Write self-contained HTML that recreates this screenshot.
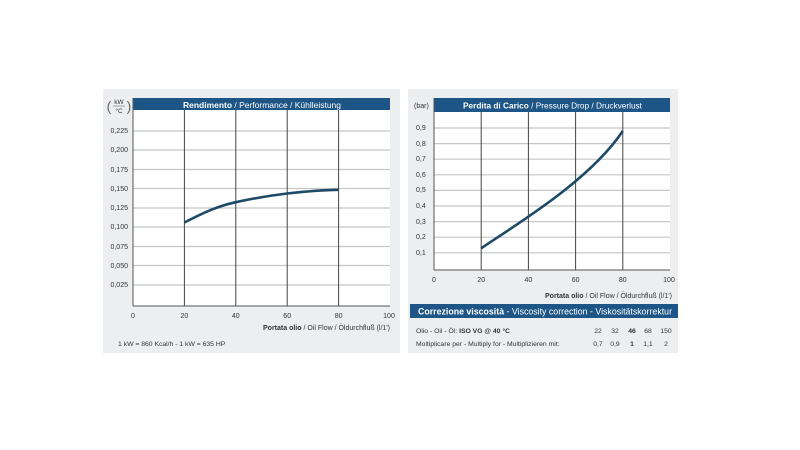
<!DOCTYPE html>
<html><head><meta charset="utf-8"><style>
body{margin:0;background:#fff;}
svg{display:block;font-family:"Liberation Sans",sans-serif;}
</style></head><body>
<svg width="800" height="450" viewBox="0 0 800 450" xmlns="http://www.w3.org/2000/svg">
<rect x="103" y="89" width="297" height="264" fill="#eceef0"/>
<rect x="408" y="89" width="270" height="264" fill="#eceef0"/>
<!-- left plot -->
<rect x="133" y="110" width="257" height="196" fill="#fff"/>
<g stroke="#c4c6c8" stroke-width="1.2">
<line x1="133" x2="390" y1="131" y2="131"/><line x1="133" x2="390" y1="150" y2="150"/>
<line x1="133" x2="390" y1="169.5" y2="169.5"/><line x1="133" x2="390" y1="188.5" y2="188.5"/>
<line x1="133" x2="390" y1="208" y2="208"/><line x1="133" x2="390" y1="227" y2="227"/>
<line x1="133" x2="390" y1="246.5" y2="246.5"/><line x1="133" x2="390" y1="265.5" y2="265.5"/>
<line x1="133" x2="390" y1="285" y2="285"/>
</g>
<rect x="133" y="98" width="257" height="12" fill="#1d5586"/>
<text x="183" y="108" font-size="8.5" fill="#fff" textLength="158" lengthAdjust="spacingAndGlyphs"><tspan font-weight="bold">Rendimento</tspan> / Performance / Kühlleistung</text>
<g stroke="#444" stroke-width="1"><line x1="184.4" x2="184.4" y1="110" y2="306"/><line x1="235.8" x2="235.8" y1="110" y2="306"/><line x1="287.2" x2="287.2" y1="110" y2="306"/><line x1="338.6" x2="338.6" y1="110" y2="306"/></g>
<line x1="133" x2="390" y1="306" y2="306" stroke="#555"/>
<line x1="133" x2="133" y1="98" y2="306" stroke="#555"/>
<path d="M184.4,222.5 C205,212 218,206 235.8,202.2 C255,198 270,195.5 287.2,193.5 C305,191.5 322,190 338.6,189.8" fill="none" stroke="#1d4a66" stroke-width="2.6"/>
<g font-size="7" fill="#333" text-anchor="end">
<text x="128" y="133">0,225</text><text x="128" y="152">0,200</text><text x="128" y="172">0,175</text><text x="128" y="191">0,150</text><text x="128" y="210">0,125</text><text x="128" y="229">0,100</text><text x="128" y="249">0,075</text><text x="128" y="268">0,050</text><text x="128" y="287">0,025</text>
</g>
<text x="119" y="104" font-size="6.5" fill="#333" text-anchor="middle">kW</text>
<line x1="113" x2="125" y1="106" y2="106" stroke="#555" stroke-width="0.5"/>
<text x="119" y="113" font-size="6.5" fill="#333" text-anchor="middle">°C</text>
<text x="109" y="111" font-size="14" fill="#666" text-anchor="middle">(</text><text x="129" y="111" font-size="14" fill="#666" text-anchor="middle">)</text>
<g font-size="7" fill="#333" text-anchor="middle">
<text x="133" y="318">0</text><text x="184.4" y="318">20</text><text x="235.8" y="318">40</text><text x="287.2" y="318">60</text><text x="338.6" y="318">80</text><text x="389" y="318">100</text>
</g>
<text x="390" y="330" font-size="7" fill="#333" text-anchor="end"><tspan font-weight="bold">Portata olio</tspan> / Oil Flow / Öldurchfluß   (l/1')</text>
<text x="118" y="346" font-size="6.8" fill="#333">1 kW = 860 Kcal/h  - 1 kW = 635 HP</text>
<!-- right plot -->
<rect x="434" y="112" width="236" height="158" fill="#fff"/>
<g stroke="#c4c6c8" stroke-width="1.2">
<line x1="434" x2="670" y1="128" y2="128"/><line x1="434" x2="670" y1="143.6" y2="143.6"/><line x1="434" x2="670" y1="159.2" y2="159.2"/>
<line x1="434" x2="670" y1="174.8" y2="174.8"/><line x1="434" x2="670" y1="190.4" y2="190.4"/><line x1="434" x2="670" y1="206" y2="206"/>
<line x1="434" x2="670" y1="221.6" y2="221.6"/><line x1="434" x2="670" y1="237.2" y2="237.2"/><line x1="434" x2="670" y1="252.8" y2="252.8"/>
</g>
<rect x="434" y="98" width="236" height="14" fill="#1d5586"/>
<text x="463" y="108.5" font-size="8.5" fill="#fff" textLength="179" lengthAdjust="spacingAndGlyphs"><tspan font-weight="bold">Perdita di Carico</tspan> / Pressure Drop / Druckverlust</text>
<g stroke="#444"><line x1="481.2" x2="481.2" y1="112" y2="270"/><line x1="528.4" x2="528.4" y1="112" y2="270"/><line x1="575.6" x2="575.6" y1="112" y2="270"/><line x1="622.8" x2="622.8" y1="112" y2="270"/></g>
<line x1="434" x2="670" y1="270" y2="270" stroke="#555"/>
<line x1="434" x2="434" y1="98" y2="270" stroke="#555"/>
<path d="M481.2,248.3 C520,222 590,180 622.8,131" fill="none" stroke="#1d4a66" stroke-width="2.6"/>
<g font-size="7" fill="#333">
<text x="414" y="108">(bar)</text>
<text x="416" y="130">0,9</text><text x="416" y="146">0,8</text><text x="416" y="161">0,7</text><text x="416" y="177">0,6</text><text x="416" y="192">0,5</text><text x="416" y="208">0,4</text><text x="416" y="224">0,3</text><text x="416" y="239">0,2</text><text x="416" y="255">0,1</text>
</g>
<g font-size="7" fill="#333" text-anchor="middle">
<text x="434" y="282">0</text><text x="481.2" y="282">20</text><text x="528.4" y="282">40</text><text x="575.6" y="282">60</text><text x="622.8" y="282">80</text><text x="669" y="282">100</text>
</g>
<text x="672" y="298" font-size="7" fill="#333" text-anchor="end"><tspan font-weight="bold">Portata olio</tspan> / Oil Flow  / Öldurchfluß   (l/1')</text>
<rect x="410" y="304" width="268" height="14" fill="#1d5586"/>
<text x="418" y="314.5" font-size="9" fill="#fff" textLength="254" lengthAdjust="spacingAndGlyphs"><tspan font-weight="bold">Correzione viscosità</tspan>  -  Viscosity correction  -  Viskositätskorrektur</text>
<g font-size="6.8" fill="#333">
<text x="416" y="333">Olio - Oil - Öl: <tspan font-weight="bold">ISO VG @ 40 °C</tspan></text>
<text x="416" y="346">Moltiplicare per - Multiply for - Multiplizieren mit:</text>
</g>
<g font-size="6.8" fill="#333" text-anchor="middle">
<text x="598" y="333">22</text><text x="615" y="333">32</text><text x="632" y="333" font-weight="bold">46</text><text x="648" y="333">68</text><text x="666" y="333">150</text>
<text x="598" y="346">0,7</text><text x="615" y="346">0,9</text><text x="632" y="346" font-weight="bold">1</text><text x="648" y="346">1,1</text><text x="666" y="346">2</text>
</g>
</svg>
</body></html>
